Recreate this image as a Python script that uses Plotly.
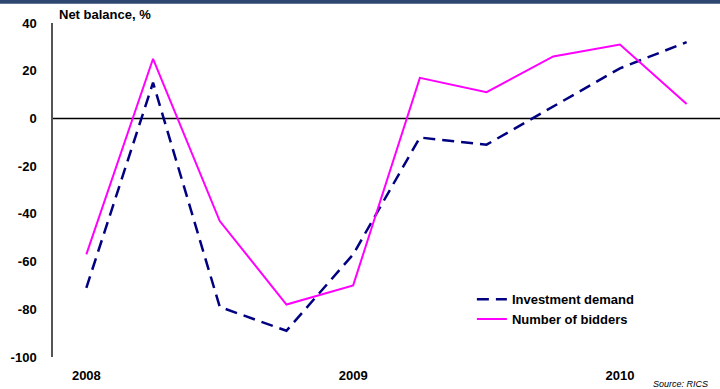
import plotly.graph_objects as go

# Quarterly survey readings, Q1 2008 - Q2 2010
quarters = ["2008 Q1", "2008 Q2", "2008 Q3", "2008 Q4",
            "2009 Q1", "2009 Q2", "2009 Q3", "2009 Q4",
            "2010 Q1", "2010 Q2"]
investment_demand = [-71, 15, -79, -89, -57, -8, -11, 5, 21, 32]
number_of_bidders = [-57, 25, -43, -78, -70, 17, 11, 26, 31, 6]

year_tick_pos = [0, 4, 8]
year_tick_text = ["2008", "2009", "2010"]
y_ticks = [40, 20, 0, -20, -40, -60, -80, -100]

FONT = "Liberation Sans, Arial, sans-serif"
x = list(range(len(quarters)))

fig = go.Figure()
fig.add_trace(go.Scatter(
    x=x, y=investment_demand, mode="lines", name="<b>Investment demand</b>",
    line=dict(color="#000080", width=2.5, dash="12px,7px"),
    hovertext=quarters,
))
fig.add_trace(go.Scatter(
    x=x, y=number_of_bidders, mode="lines", name="<b>Number of bidders</b>",
    line=dict(color="#FF00FF", width=2),
    hovertext=quarters,
))

# zero reference line across the plot
fig.add_shape(type="line", xref="paper", yref="y", x0=0, x1=1, y0=0, y1=0,
              line=dict(color="black", width=1.5), layer="below")
# thin dark band along the top edge of the page
fig.add_shape(type="rect", xref="paper", yref="paper", x0=-0.2, x1=1.2,
              y0=1.058, y1=1.2, fillcolor="#2E4770", line=dict(width=0))

fig.add_annotation(text="<b>Net balance, %</b>", xref="paper", yref="paper",
                   x=0.006, y=1.0, xanchor="left", yanchor="bottom", yshift=-1,
                   showarrow=False, font=dict(family=FONT, size=13, color="black"))
fig.add_annotation(text="<i>Source: RICS</i>", xref="paper", yref="paper",
                   x=0.985, y=-0.06, xanchor="right", yanchor="top",
                   showarrow=False, font=dict(family=FONT, size=9, color="black"))

fig.update_layout(
    width=720, height=389,
    margin=dict(l=53, r=0, t=23, b=32),
    paper_bgcolor="white", plot_bgcolor="white",
    font=dict(family=FONT, size=13, color="black"),
    showlegend=True,
    legend=dict(x=0.628, y=0.218, xanchor="left", yanchor="top",
                bgcolor="rgba(0,0,0,0)", tracegroupgap=0,
                font=dict(family=FONT, size=13, color="black"),
                itemwidth=30),
    xaxis=dict(range=[-0.5, 9.5], showgrid=False, zeroline=False,
               showline=False, tickmode="array", tickvals=year_tick_pos,
               ticktext=[f"<b>{t}</b>" for t in year_tick_text], ticks="",
               ticklabelstandoff=9,
               tickfont=dict(family=FONT, size=13)),
    yaxis=dict(range=[-100, 40], showgrid=False, zeroline=False,
               showline=True, linecolor="#555555", linewidth=1.5,
               tickmode="array", tickvals=y_ticks,
               ticktext=[f"<b>{v}</b>" for v in y_ticks], ticks="",
               ticklabelstandoff=12,
               tickfont=dict(family=FONT, size=13)),
)

fig.write_html("out.html")
